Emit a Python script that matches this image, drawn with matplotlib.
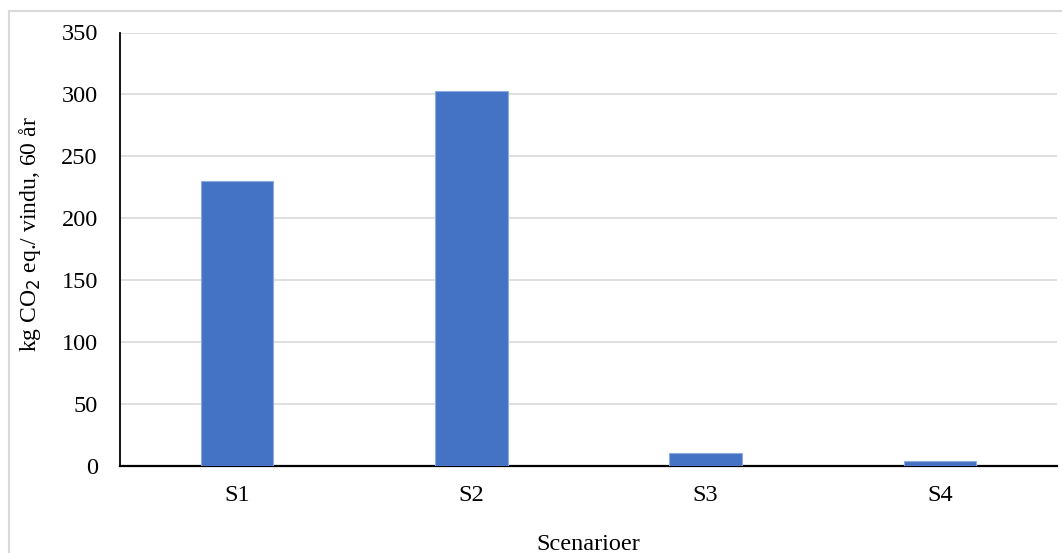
import matplotlib.pyplot as plt
from matplotlib.patches import Rectangle

categories = ['S1', 'S2', 'S3', 'S4']
values = [230, 303, 10, 3.5]

plt.rcParams['font.family'] = ['Liberation Serif', 'DejaVu Serif']

fig = plt.figure(figsize=(10.62, 5.53), dpi=100)
ax = fig.add_axes([120 / 1062, 1 - 465.5 / 553, 937 / 1062, 433 / 553])

x = range(len(categories))
ax.bar(x, values, width=0.31, color='#4472C4', edgecolor='#8FAADC', linewidth=0.8, zorder=3)

ax.set_xlim(-0.5, 3.5)
ax.set_ylim(0, 350)
ax.set_yticks(range(0, 351, 50))
ax.set_xticks(list(x))
ax.set_xticklabels(categories)
ax.yaxis.grid(True, color='#D9D9D9', linewidth=1.2, zorder=0)
ax.set_axisbelow(True)

for side in ['top', 'right']:
    ax.spines[side].set_visible(False)
ax.spines['left'].set_linewidth(1.3)
ax.spines['bottom'].set_linewidth(1.6)
ax.tick_params(axis='both', length=0, labelsize=17.5)
ax.tick_params(axis='y', pad=16)
ax.tick_params(axis='x', pad=14)

ax.set_ylabel('kg CO$_2$ eq./ vindu, 60 år', fontsize=17)
ax.yaxis.set_label_coords(-0.082, 0.535)
ax.set_xlabel('Scenarioer', fontsize=17.5, labelpad=20)

# light frame around the chart area
fig.patches.append(Rectangle((9 / 1062, -0.1), 1.2, 1 - 11 / 553 + 0.1,
                             transform=fig.transFigure, fill=False,
                             edgecolor='#D9D9D9', linewidth=1.5))

fig.savefig('out.png', dpi=100)
